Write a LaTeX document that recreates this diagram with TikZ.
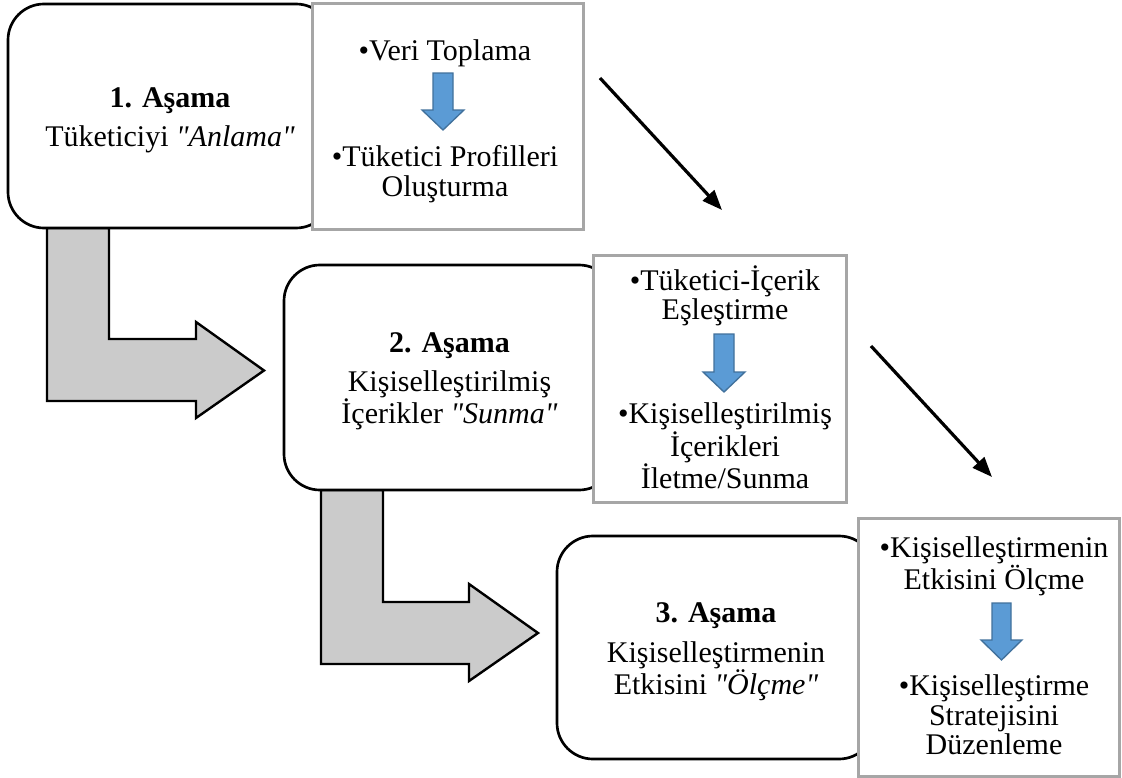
\documentclass[tikz,border=0pt]{standalone}
\usepackage{fontspec}
\setmainfont{Liberation Serif}[Ligatures=TeXOff]
\usetikzlibrary{arrows.meta}
\definecolor{boxgray}{HTML}{A6A6A6}
\definecolor{arrowfill}{HTML}{CBCBCB}
\definecolor{bluefill}{HTML}{5B9BD5}
\definecolor{blueedge}{HTML}{41719C}
\newcommand{\headstrut}{\rule{0pt}{21pt}}
\tikzset{
  stagebox/.style={draw=black, line width=2pt, rounded corners=27pt, fill=white, align=center, font=\fontsize{22.5}{21}\selectfont, inner sep=0pt},
  stepbox/.style={draw=boxgray, line width=2.25pt, fill=white, inner sep=0pt},
  itemtext/.style={align=center, font=\fontsize{22.5}{22}\selectfont, inner sep=0pt},
  bigarrow/.style={fill=arrowfill, draw=black, line width=1.8pt, line join=miter},
  bluearrow/.style={fill=bluefill, draw=blueedge, line width=1pt},
  flowarrow/.style={line width=2.4pt, -{Triangle[length=15pt,width=11.5pt]}}
}
\begin{document}
\begin{tikzpicture}[x=0.75pt,y=-0.75pt]
\useasboundingbox (0,0) rectangle (1122,778);
% gray bent arrows
\draw[bigarrow] (47,228) -- (109,228) -- (109,339) -- (196,339) -- (196,322) -- (264,370.5) -- (196,418) -- (196,401) -- (47,401) -- cycle;
\draw[bigarrow] (321,490) -- (383,490) -- (383,602) -- (469,602) -- (469,584) -- (538,633) -- (469,681) -- (469,664) -- (321,664) -- cycle;
% stage boxes
\node[stagebox, minimum width=243pt, minimum height=168pt] (s1) at (170,116)
  {\headstrut\textbf{1. Aşama}\\[8pt]Tüketiciyi \textit{"Anlama"}};
\node[stagebox, minimum width=248.25pt, minimum height=168.75pt] (s2) at (449.5,377.5)
  {\headstrut\textbf{2. Aşama}\\[8pt]Kişiselleştirilmiş\\İçerikler \textit{"Sunma"}};
\node[stagebox, minimum width=238.5pt, minimum height=167.25pt] (s3) at (716,647.5)
  {\headstrut\textbf{3. Aşama}\\[9pt]Kişiselleştirmenin\\Etkisini \textit{"Ölçme"}};
% step boxes
\node[stepbox, minimum width=203.25pt, minimum height=169.5pt] (bA) at (447.5,116) {};
\node[stepbox, minimum width=189.75pt, minimum height=185.25pt] (bB) at (719.5,378.5) {};
\node[stepbox, minimum width=195.75pt, minimum height=193.5pt] (bC) at (988.5,647) {};
% texts in step boxes
\node[itemtext] (a1) at (445,53) {•Veri Toplama};
\node[itemtext] (a2) at (445,174) {•Tüketici Profilleri\\Oluşturma};
\node[itemtext] (b1) at (725,296) {•Tüketici-İçerik\\Eşleştirme};
\node[itemtext] (b2) at (725,446) {•Kişiselleştirilmiş\\İçerikleri\\İletme/Sunma};
\node[itemtext] (c1) at (994,566) {•Kişiselleştirmenin\\Etkisini Ölçme};
\node[itemtext] (c2) at (994,715) {•Kişiselleştirme\\Stratejisini\\Düzenleme};
% blue arrows
\draw[bluearrow] (433,73) -- (453,73) -- (453,110) -- (464,110) -- (443,130) -- (422,110) -- (433,110) -- cycle;
\draw[bluearrow] (714,334) -- (734,334) -- (734,372) -- (745,372) -- (724,392) -- (703,372) -- (714,372) -- cycle;
\draw[bluearrow] (992,603) -- (1011,603) -- (1011,640) -- (1022,640) -- (1001.5,660) -- (981,640) -- (992,640) -- cycle;
% diagonal arrows
\coordinate (d1s) at (600,78);
\coordinate (d1e) at (722,210);
\coordinate (d2s) at (871,346);
\coordinate (d2e) at (992,477);
\draw[flowarrow] (d1s) -- (d1e);
\draw[flowarrow] (d2s) -- (d2e);
\end{tikzpicture}
\end{document}
